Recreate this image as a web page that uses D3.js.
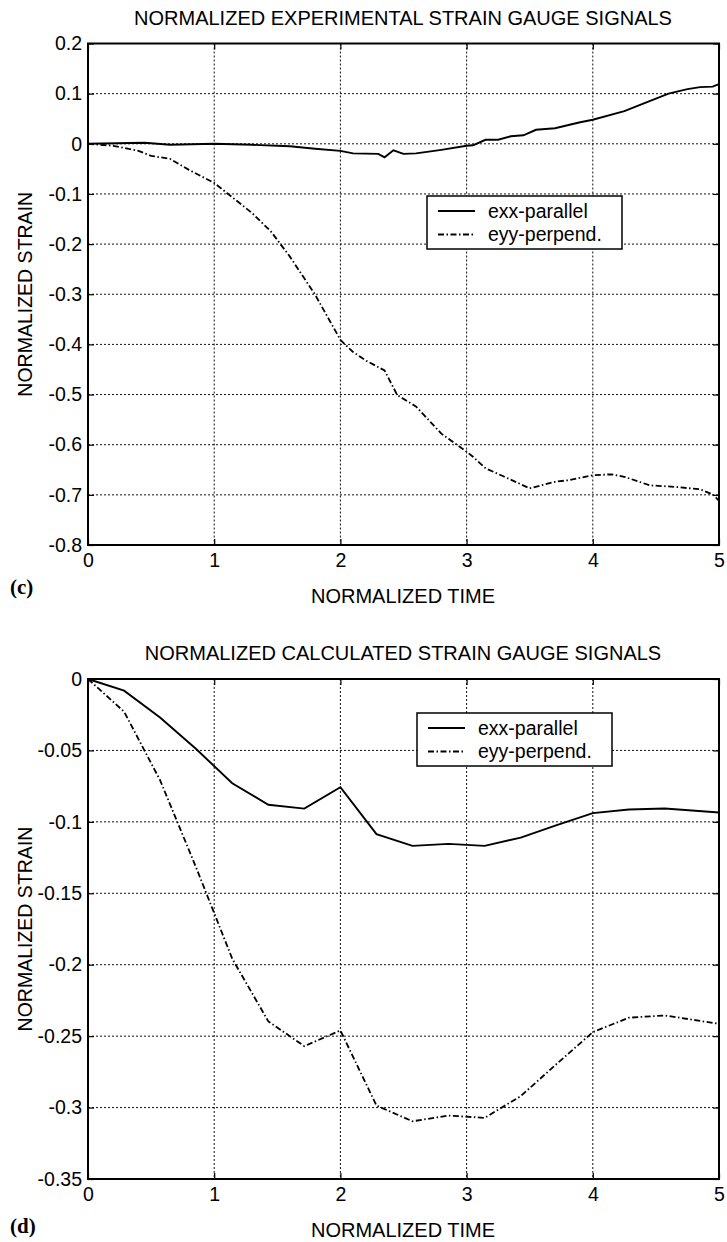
<!DOCTYPE html>
<html>
<head>
<meta charset="utf-8">
<script src="https://cdn.jsdelivr.net/npm/d3@7"></script>
<style>
  body { margin: 0; background: #fff; }
  text { font-family: "Liberation Sans", Arial, Helvetica, sans-serif; fill: #000; }
</style>
</head>
<body>
<script>
(function (d3) {
  'use strict';

  // ---- data ----
  const timeTicks = [0, 1, 2, 3, 4, 5];

  // (c) experimental
  const expTicksY = [0.2, 0.1, 0, -0.1, -0.2, -0.3, -0.4, -0.5, -0.6, -0.7, -0.8];
  const expExxTime = [0, 0.45, 0.65, 1.0, 1.3, 1.6, 1.8, 2.0, 2.1, 2.3, 2.35, 2.42, 2.5, 2.6, 2.8, 3.0, 3.05, 3.15, 3.25, 3.35, 3.45, 3.55, 3.7, 3.9, 4.0, 4.25, 4.45, 4.6, 4.75, 4.85, 4.95, 5.0];
  const expExx = [0, 0.002, -0.002, 0, -0.002, -0.005, -0.01, -0.014, -0.019, -0.02, -0.027, -0.013, -0.02, -0.019, -0.012, -0.004, -0.003, 0.008, 0.008, 0.015, 0.017, 0.028, 0.031, 0.043, 0.048, 0.065, 0.085, 0.1, 0.109, 0.113, 0.114, 0.119];
  const expEyyTime = [0, 0.2, 0.4, 0.5, 0.65, 0.8, 1.0, 1.1, 1.3, 1.45, 1.6, 1.8, 2.0, 2.1, 2.2, 2.35, 2.45, 2.6, 2.8, 3.0, 3.05, 3.15, 3.3, 3.5, 3.7, 3.8, 4.0, 4.15, 4.25, 4.45, 4.65, 4.85, 4.95, 5.0];
  const expEyy = [0, -0.004, -0.014, -0.024, -0.03, -0.052, -0.078, -0.098, -0.138, -0.175, -0.225, -0.301, -0.391, -0.415, -0.432, -0.452, -0.501, -0.524, -0.578, -0.614, -0.624, -0.647, -0.664, -0.687, -0.674, -0.671, -0.661, -0.659, -0.664, -0.681, -0.684, -0.689, -0.699, -0.712];

  // (d) calculated
  const calcTicksY = [0, -0.05, -0.1, -0.15, -0.2, -0.25, -0.3, -0.35];
  const calcTime = [0, 0.286, 0.571, 0.857, 1.143, 1.429, 1.714, 2.0, 2.286, 2.571, 2.857, 3.143, 3.429, 3.714, 4.0, 4.286, 4.571, 5.0];
  const calcExx = [0, -0.0082, -0.027, -0.049, -0.073, -0.088, -0.0907, -0.0757, -0.1086, -0.1168, -0.1154, -0.1168, -0.111, -0.1023, -0.0939, -0.0914, -0.0907, -0.0935];
  const calcEyy = [0, -0.0229, -0.0708, -0.132, -0.1958, -0.2397, -0.257, -0.246, -0.2986, -0.3096, -0.3056, -0.3072, -0.292, -0.2694, -0.2472, -0.2371, -0.2355, -0.2414];

  const seriesNames = ["exx-parallel", "eyy-perpend."];
  const dashDot = "6,2.5,1.5,2.5";

  const svg = d3.select("body")
    .append("svg")
      .attr("width", 727)
      .attr("height", 1242);

  function panel(p) {
    const x = d3.scaleLinear().domain([0, 5]).range([88, 719]);
    const y = d3.scaleLinear().domain(p.yDomain).range([p.top, p.bottom]);
    const g = svg.append("g");

    // grid
    g.append("g").selectAll("line")
      .data(timeTicks.slice(1, -1))
      .join("line")
        .attr("x1", d => x(d)).attr("x2", d => x(d))
        .attr("y1", p.top).attr("y2", p.bottom)
        .attr("stroke", "#111").attr("stroke-width", 1)
        .attr("stroke-dasharray", "2,2");
    g.append("g").selectAll("line")
      .data(p.yTicks.filter(d => d !== p.yDomain[0] && d !== p.yDomain[1]))
      .join("line")
        .attr("x1", 88).attr("x2", 719)
        .attr("y1", d => y(d)).attr("y2", d => y(d))
        .attr("stroke", "#111").attr("stroke-width", 1)
        .attr("stroke-dasharray", "2,2");

    // axes, ticks pointing inward on all four sides
    const axL = g.append("g").attr("transform", "translate(88,0)")
      .call(d3.axisLeft(y).tickValues(p.yTicks).tickSizeInner(-6).tickSizeOuter(0).tickPadding(6).tickFormat(d => String(d)));
    const axR = g.append("g").attr("transform", "translate(719,0)")
      .call(d3.axisRight(y).tickValues(p.yTicks).tickSizeInner(-6).tickSizeOuter(0).tickFormat(""));
    const axB = g.append("g").attr("transform", `translate(0,${p.bottom})`)
      .call(d3.axisBottom(x).tickValues(timeTicks).tickSizeInner(-6).tickSizeOuter(0).tickPadding(16).tickFormat(d3.format("d")));
    const axT = g.append("g").attr("transform", `translate(0,${p.top})`)
      .call(d3.axisTop(x).tickValues(timeTicks).tickSizeInner(-6).tickSizeOuter(0).tickFormat(""));
    [axL, axR, axB, axT].forEach(a => {
      a.select(".domain").remove();
      a.selectAll("line").attr("stroke", "#000").attr("stroke-width", 1.2);
      a.selectAll("text").style("font-size", "19.5px")
        .style("font-family", "'Liberation Sans', Arial, sans-serif");
    });
    axB.selectAll("text").attr("dy", "0.32em").attr("y", 16);

    // curves
    const line = d3.line().x(d => x(d[0])).y(d => y(d[1]));
    g.append("path")
      .datum(p.exxT.map((t, i) => [t, p.exx[i]]))
      .attr("d", line)
      .attr("fill", "none").attr("stroke", "#000").attr("stroke-width", 1.9);
    g.append("path")
      .datum(p.eyyT.map((t, i) => [t, p.eyy[i]]))
      .attr("d", line)
      .attr("fill", "none").attr("stroke", "#000").attr("stroke-width", 1.8)
      .attr("stroke-dasharray", dashDot);

    // frame
    g.append("rect")
      .attr("x", 88).attr("y", p.top)
      .attr("width", 719 - 88).attr("height", p.bottom - p.top)
      .attr("fill", "none").attr("stroke", "#000").attr("stroke-width", 2);

    // legend
    const lg = g.append("g").attr("transform", `translate(${p.legX},${p.legY})`);
    lg.append("rect")
      .attr("width", 195).attr("height", 53)
      .attr("fill", "#fff").attr("stroke", "#000").attr("stroke-width", 1.5);
    seriesNames.forEach((name, i) => {
      const ry = 15 + i * 23.5;
      lg.append("line")
        .attr("x1", 11).attr("x2", 48).attr("y1", ry).attr("y2", ry)
        .attr("stroke", "#000").attr("stroke-width", i ? 1.8 : 1.9)
        .attr("stroke-dasharray", i ? dashDot : null);
      lg.append("text")
        .attr("x", 61).attr("y", ry)
        .attr("dy", "0.35em")
        .style("font-size", "19.5px")
        .text(name);
    });

    // titles and labels
    svg.append("text")
      .attr("x", 403).attr("y", p.top - 26)
      .attr("text-anchor", "middle").attr("dy", "0.35em")
      .style("font-size", "20px")
      .text(p.title);
    svg.append("text")
      .attr("x", 403).attr("y", p.bottom + p.xlabOff)
      .attr("text-anchor", "middle").attr("dy", "0.35em")
      .style("font-size", "20px")
      .text("NORMALIZED TIME");
    svg.append("text")
      .attr("transform", `translate(25,${(p.top + p.bottom) / 2}) rotate(-90)`)
      .attr("text-anchor", "middle").attr("dy", "0.35em")
      .style("font-size", "19.5px")
      .text("NORMALIZED STRAIN");
    svg.append("text")
      .attr("x", 10).attr("y", p.bottom + p.tagOff)
      .attr("dy", "0.35em")
      .style("font-family", "'Liberation Serif', 'Times New Roman', serif")
      .style("font-weight", "bold")
      .style("font-size", "21px")
      .text(p.tag);
  }

  panel({
    title: "NORMALIZED EXPERIMENTAL STRAIN GAUGE SIGNALS",
    tag: "(c)",
    top: 43.5, bottom: 545,
    yDomain: [0.2, -0.8], yTicks: expTicksY,
    exxT: expExxTime, exx: expExx, eyyT: expEyyTime, eyy: expEyy,
    legX: 427, legY: 196,
    xlabOff: 51, tagOff: 41.5
  });

  panel({
    title: "NORMALIZED CALCULATED STRAIN GAUGE SIGNALS",
    tag: "(d)",
    top: 679, bottom: 1179,
    yDomain: [0, -0.35], yTicks: calcTicksY,
    exxT: calcTime, exx: calcExx, eyyT: calcTime, eyy: calcEyy,
    legX: 417, legY: 713,
    xlabOff: 51, tagOff: 47
  });

}(d3));
</script>
</body>
</html>
